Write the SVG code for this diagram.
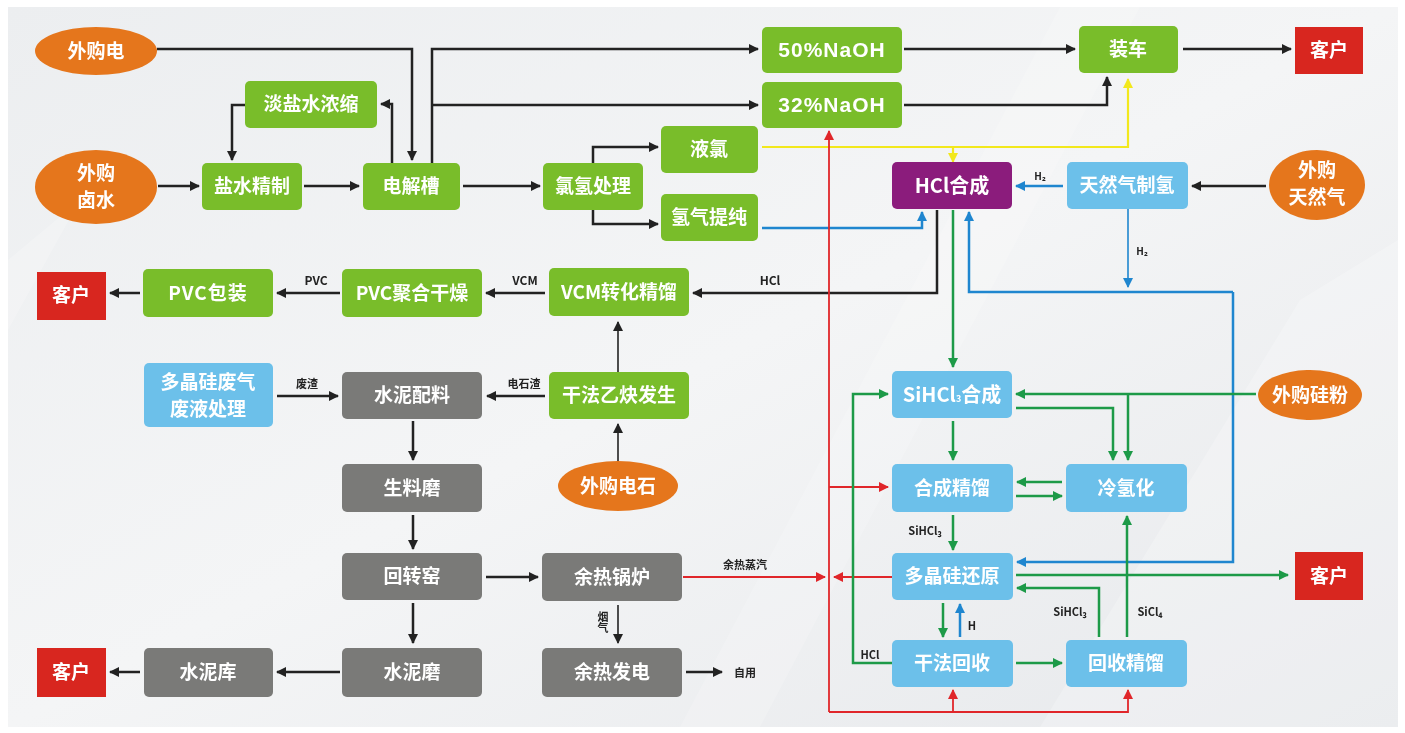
<svg xmlns="http://www.w3.org/2000/svg" width="1405" height="733" viewBox="0 0 1405 733">
<defs>
<linearGradient id="bg" x1="0" y1="0" x2="1" y2="1">
<stop offset="0" stop-color="#eceef0"/>
<stop offset="0.5" stop-color="#f4f5f6"/>
<stop offset="1" stop-color="#e6e8eb"/>
</linearGradient>
<marker id="ak" viewBox="0 0 10 10" refX="9" refY="5" markerWidth="12" markerHeight="10" markerUnits="userSpaceOnUse" orient="auto"><path d="M0,0 L10,5 L0,10 z" fill="#222"/></marker>
<marker id="ag" viewBox="0 0 10 10" refX="9" refY="5" markerWidth="12" markerHeight="10" markerUnits="userSpaceOnUse" orient="auto"><path d="M0,0 L10,5 L0,10 z" fill="#1d9a48"/></marker>
<marker id="ab" viewBox="0 0 10 10" refX="9" refY="5" markerWidth="12" markerHeight="10" markerUnits="userSpaceOnUse" orient="auto"><path d="M0,0 L10,5 L0,10 z" fill="#1f86cf"/></marker>
<marker id="ar" viewBox="0 0 10 10" refX="9" refY="5" markerWidth="12" markerHeight="10" markerUnits="userSpaceOnUse" orient="auto"><path d="M0,0 L10,5 L0,10 z" fill="#e0262a"/></marker>
<marker id="ay" viewBox="0 0 10 10" refX="9" refY="5" markerWidth="12" markerHeight="10" markerUnits="userSpaceOnUse" orient="auto"><path d="M0,0 L10,5 L0,10 z" fill="#f2e81c"/></marker>
</defs>
<style>
text{font-family:"Noto Sans CJK SC","Noto Sans",sans-serif;font-weight:bold}
.t{fill:#fff;font-size:19px;text-anchor:middle}
.tn{fill:#fff;font-size:21px;text-anchor:middle;font-family:"Liberation Sans","Noto Sans CJK SC",sans-serif;letter-spacing:1px}
.s{fill:#222;font-size:12px;text-anchor:middle}
.gr{fill:#79bd2a}
.gy{fill:#7a7a78}
.lb{fill:#6cc0ea}
.or{fill:#e5761c}
.rd{fill:#d8261f}
.pu{fill:#8b1c7c}
.k{fill:none;stroke:#222;stroke-width:2.5}
.kt{fill:none;stroke:#222;stroke-width:1.6}
.g{fill:none;stroke:#1d9a48;stroke-width:2.5}
.b{fill:none;stroke:#1f86cf;stroke-width:2.5}
.bt{fill:none;stroke:#1f86cf;stroke-width:1.6}
.r{fill:none;stroke:#e0262a;stroke-width:1.8}
.y{fill:none;stroke:#f2e81c;stroke-width:2.2}
</style>
<rect x="8" y="7" width="1390" height="720" fill="url(#bg)"/>
<g opacity="0.5">
<polygon points="1060,7 1140,7 760,727 680,727" fill="#ffffff" opacity="0.35"/>
<polygon points="1300,300 1398,240 1398,727 1040,727" fill="#ffffff" opacity="0.45"/>
<polygon points="8,260 80,200 8,330" fill="#ffffff" opacity="0.4"/>
</g>

<g id="connectors">
<!-- black -->
<path class="k" d="M157,49 H412 V160" marker-end="url(#ak)"/>
<path class="k" d="M392,163 V104 H381" marker-end="url(#ak)"/>
<path class="k" d="M245,105 H232 V160" marker-end="url(#ak)"/>
<path class="k" d="M158,186 H199" marker-end="url(#ak)"/>
<path class="k" d="M304,186 H359" marker-end="url(#ak)"/>
<path class="k" d="M432,163 V49 H758" marker-end="url(#ak)"/>
<path class="k" d="M432,105 H758" marker-end="url(#ak)"/>
<path class="k" d="M463,186 H540" marker-end="url(#ak)"/>
<path class="k" d="M593,163 V147 H658" marker-end="url(#ak)"/>
<path class="k" d="M593,210 V224 H658" marker-end="url(#ak)"/>
<path class="k" d="M904,49 H1075" marker-end="url(#ak)"/>
<path class="k" d="M904,105 H1107 V77" marker-end="url(#ak)"/>
<path class="k" d="M1183,49 H1291" marker-end="url(#ak)"/>
<path class="k" d="M1266,186 H1192" marker-end="url(#ak)"/>
<path class="k" d="M937,210 V293 H693" marker-end="url(#ak)"/>
<path class="k" d="M545,293 H486" marker-end="url(#ak)"/>
<path class="k" d="M340,293 H277" marker-end="url(#ak)"/>
<path class="k" d="M140,293 H110" marker-end="url(#ak)"/>
<path class="kt" d="M618,372 V322" marker-end="url(#ak)"/>
<path class="kt" d="M618,461 V424" marker-end="url(#ak)"/>
<path class="k" d="M545,396 H487" marker-end="url(#ak)"/>
<path class="k" d="M277,396 H338" marker-end="url(#ak)"/>
<path class="k" d="M413,421 V460" marker-end="url(#ak)"/>
<path class="k" d="M413,515 V549" marker-end="url(#ak)"/>
<path class="k" d="M413,603 V643" marker-end="url(#ak)"/>
<path class="k" d="M340,672 H277" marker-end="url(#ak)"/>
<path class="k" d="M140,672 H110" marker-end="url(#ak)"/>
<path class="k" d="M486,577 H538" marker-end="url(#ak)"/>
<path class="kt" d="M618,605 V643" marker-end="url(#ak)"/>
<path class="k" d="M686,672 H722" marker-end="url(#ak)"/>
<!-- yellow -->
<path class="y" d="M762,147 H1128 V79" marker-end="url(#ay)"/>
<path class="y" d="M953,147 V162" marker-end="url(#ay)"/>
<!-- blue -->
<path class="b" d="M762,228 H922 V212" marker-end="url(#ab)"/>
<path class="b" d="M1063,186 H1016" marker-end="url(#ab)"/>
<path class="bt" d="M1128,209 V287" marker-end="url(#ab)"/>
<path class="b" d="M1233,292 H969 V212" marker-end="url(#ab)"/>
<path class="b" d="M1233,292 V562 H1017" marker-end="url(#ab)"/>
<path class="b" d="M960,637 V604" marker-end="url(#ab)"/>
<!-- red -->
<path class="r" d="M829,712 V131" marker-end="url(#ar)"/>
<path class="r" d="M829,712 H1128 V690" marker-end="url(#ar)"/>
<path class="r" d="M953,712 V690" marker-end="url(#ar)"/>
<path class="r" d="M829,487 H888" marker-end="url(#ar)"/>
<path class="r" d="M683,577 H825" marker-end="url(#ar)"/>
<path class="r" d="M892,577 H834" marker-end="url(#ar)"/>
<!-- green -->
<path class="g" d="M953,210 V367" marker-end="url(#ag)"/>
<path class="g" d="M1256,394 H1016" marker-end="url(#ag)"/>
<path class="g" d="M1128,394 V460" marker-end="url(#ag)"/>
<path class="g" d="M1016,408 H1113 V460" marker-end="url(#ag)"/>
<path class="g" d="M953,421 V460" marker-end="url(#ag)"/>
<path class="g" d="M1062,482 H1017" marker-end="url(#ag)"/>
<path class="g" d="M1016,496 H1062" marker-end="url(#ag)"/>
<path class="g" d="M953,515 V550" marker-end="url(#ag)"/>
<path class="g" d="M1127,637 V516" marker-end="url(#ag)"/>
<path class="g" d="M1099,637 V588 H1017" marker-end="url(#ag)"/>
<path class="g" d="M1016,575 H1288" marker-end="url(#ag)"/>
<path class="g" d="M943,603 V637" marker-end="url(#ag)"/>
<path class="g" d="M1016,663 H1062" marker-end="url(#ag)"/>
<path class="g" d="M892,663 H853 V394 H888" marker-end="url(#ag)"/>
<!-- labels -->
<text class="s" x="770" y="285">HCl</text>
<text class="s" x="525" y="285">VCM</text>
<text class="s" x="316" y="285">PVC</text>
<text class="s" x="524" y="388" style="font-size:11px">电石渣</text>
<text class="s" x="307" y="388" style="font-size:11px">废渣</text>
<text class="s" x="745" y="569" style="font-size:11px">余热蒸汽</text>
<text class="s" x="603" y="611" writing-mode="tb" style="font-size:11px;text-anchor:start">烟气</text>
<text class="s" x="745" y="677" style="font-size:11px">自用</text>
<text class="s" x="1040" y="180" style="font-size:10px">H₂</text>
<text class="s" x="1142" y="255" style="font-size:10px">H₂</text>
<text class="s" x="925" y="535" style="font-size:11px">SiHCl₃</text>
<text class="s" x="972" y="630" style="font-size:11px">H</text>
<text class="s" x="870" y="659" style="font-size:11px">HCl</text>
<text class="s" x="1070" y="616" style="font-size:11px">SiHCl₃</text>
<text class="s" x="1150" y="616" style="font-size:11px">SiCl₄</text>
</g>

<g id="n-wgd"><ellipse class="or" cx="96" cy="51" rx="61" ry="24"/><text class="t" x="96" y="58">外购电</text></g>
<g id="n-dys"><rect class="gr" x="245" y="81" width="132" height="47" rx="5"/><text class="t" x="311" y="111">淡盐水浓缩</text></g>
<g id="n-wglb"><ellipse class="or" cx="96" cy="187" rx="61" ry="37"/><text class="t" x="96" y="180">外购</text><text class="t" x="96" y="207">卤水</text></g>
<g id="n-ysjz"><rect class="gr" x="202" y="163" width="100" height="47" rx="5"/><text class="t" x="252" y="193">盐水精制</text></g>
<g id="n-djc"><rect class="gr" x="363" y="163" width="97" height="47" rx="5"/><text class="t" x="411" y="193">电解槽</text></g>
<g id="n-n50"><rect class="gr" x="762" y="27" width="140" height="46" rx="5"/><text class="tn" x="832" y="57">50%NaOH</text></g>
<g id="n-n32"><rect class="gr" x="762" y="82" width="140" height="46" rx="5"/><text class="tn" x="832" y="112">32%NaOH</text></g>
<g id="n-ylv"><rect class="gr" x="661" y="126" width="97" height="47" rx="5"/><text class="t" x="709" y="156">液氯</text></g>
<g id="n-lqcl"><rect class="gr" x="543" y="163" width="100" height="47" rx="5"/><text class="t" x="593" y="193">氯氢处理</text></g>
<g id="n-qqtc"><rect class="gr" x="661" y="194" width="97" height="47" rx="5"/><text class="t" x="709" y="224">氢气提纯</text></g>
<g id="n-zc"><rect class="gr" x="1079" y="26" width="99" height="47" rx="5"/><text class="t" x="1128" y="56">装车</text></g>
<g id="n-kh1"><rect class="rd" x="1295" y="27" width="68" height="47"/><text class="t" x="1329" y="57">客户</text></g>
<g id="n-hcl"><rect class="pu" x="892" y="162" width="120" height="47" rx="5"/><text class="t" x="952" y="193" style="font-size:20px">HCl合成</text></g>
<g id="n-trq"><rect class="lb" x="1067" y="162" width="121" height="47" rx="5"/><text class="t" x="1127" y="192">天然气制氢</text></g>
<g id="n-wgtrq"><ellipse class="or" cx="1317" cy="185" rx="48" ry="35"/><text class="t" x="1317" y="177">外购</text><text class="t" x="1317" y="204">天然气</text></g>
<g id="n-kh2"><rect class="rd" x="37" y="272" width="69" height="48"/><text class="t" x="71" y="302">客户</text></g>
<g id="n-pvcbz"><rect class="gr" x="143" y="269" width="130" height="48" rx="5"/><text class="t" x="208" y="300" style="letter-spacing:1px">PVC包装</text></g>
<g id="n-pvcjh"><rect class="gr" x="342" y="269" width="140" height="48" rx="5"/><text class="t" x="412" y="300">PVC聚合干燥</text></g>
<g id="n-vcm"><rect class="gr" x="549" y="268" width="140" height="48" rx="5"/><text class="t" x="619" y="299">VCM转化精馏</text></g>
<g id="n-gfyq"><rect class="gr" x="549" y="372" width="140" height="47" rx="5"/><text class="t" x="619" y="402">干法乙炔发生</text></g>
<g id="n-wgds"><ellipse class="or" cx="618" cy="486" rx="60" ry="25"/><text class="t" x="618" y="493">外购电石</text></g>
<g id="n-djg"><rect class="lb" x="144" y="363" width="129" height="64" rx="5"/><text class="t" x="208" y="389">多晶硅废气</text><text class="t" x="208" y="416">废液处理</text></g>
<g id="n-snpl"><rect class="gy" x="342" y="372" width="140" height="47" rx="5"/><text class="t" x="412" y="402">水泥配料</text></g>
<g id="n-slm"><rect class="gy" x="342" y="464" width="140" height="48" rx="5"/><text class="t" x="412" y="495">生料磨</text></g>
<g id="n-hzy"><rect class="gy" x="342" y="553" width="140" height="47" rx="5"/><text class="t" x="412" y="583">回转窑</text></g>
<g id="n-snm"><rect class="gy" x="342" y="648" width="140" height="49" rx="5"/><text class="t" x="412" y="679">水泥磨</text></g>
<g id="n-snk"><rect class="gy" x="144" y="648" width="129" height="49" rx="5"/><text class="t" x="208" y="679">水泥库</text></g>
<g id="n-kh3"><rect class="rd" x="37" y="648" width="69" height="49"/><text class="t" x="71" y="679">客户</text></g>
<g id="n-yrgl"><rect class="gy" x="542" y="553" width="140" height="48" rx="5"/><text class="t" x="612" y="584">余热锅炉</text></g>
<g id="n-yrfd"><rect class="gy" x="542" y="648" width="140" height="49" rx="5"/><text class="t" x="612" y="679">余热发电</text></g>
<g id="n-sihcl"><rect class="lb" x="892" y="371" width="120" height="47" rx="5"/><text class="t" x="952" y="402" style="font-size:20px">SiHCl<tspan style="font-size:9px">3</tspan>合成</text></g>
<g id="n-hcjl"><rect class="lb" x="892" y="464" width="121" height="48" rx="5"/><text class="t" x="952" y="495">合成精馏</text></g>
<g id="n-lqh"><rect class="lb" x="1066" y="464" width="121" height="48" rx="5"/><text class="t" x="1126" y="495">冷氢化</text></g>
<g id="n-djgh"><rect class="lb" x="892" y="553" width="121" height="47" rx="5"/><text class="t" x="952" y="583">多晶硅还原</text></g>
<g id="n-gfhs"><rect class="lb" x="892" y="640" width="121" height="47" rx="5"/><text class="t" x="952" y="670">干法回收</text></g>
<g id="n-hsjl"><rect class="lb" x="1066" y="640" width="121" height="47" rx="5"/><text class="t" x="1126" y="670">回收精馏</text></g>
<g id="n-wggf"><ellipse class="or" cx="1310" cy="395" rx="52" ry="25"/><text class="t" x="1310" y="402">外购硅粉</text></g>
<g id="n-kh4"><rect class="rd" x="1295" y="552" width="68" height="48"/><text class="t" x="1329" y="583">客户</text></g>
</svg>
